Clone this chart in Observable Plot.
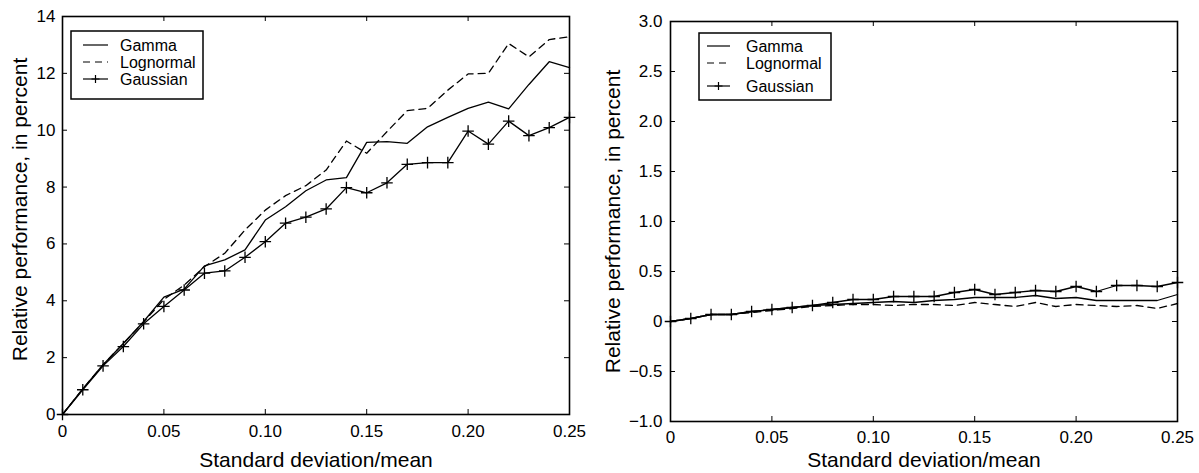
<!DOCTYPE html>
<html><head><meta charset="utf-8">
<script src="https://cdn.jsdelivr.net/npm/d3@7"></script>
<script src="https://cdn.jsdelivr.net/npm/@observablehq/plot@0.6"></script>
<style>
body{margin:0;background:#fff;}
#wrap{position:relative;width:1199px;height:473px;overflow:hidden;background:#fff;font-family:"Liberation Sans",Arial,Helvetica,sans-serif;}
.panel{position:absolute;top:0}
#legend{position:absolute;left:0;top:0;pointer-events:none}
</style></head><body><div id="wrap"></div>
<script>
// ---- data ----
const sdMean = [0,0.01,0.02,0.03,0.04,0.05,0.06,0.07,0.08,0.09,0.10,0.11,0.12,0.13,0.14,0.15,0.16,0.17,0.18,0.19,0.20,0.21,0.22,0.23,0.24,0.25];
const seriesNames = ["Gamma","Lognormal","Gaussian"];

const leftGamma     = [0,0.90,1.75,2.50,3.27,4.13,4.41,5.23,5.44,5.79,6.84,7.31,7.87,8.25,8.33,9.57,9.60,9.54,10.12,10.45,10.77,10.99,10.75,11.61,12.41,12.20];
const leftLognormal = [0,0.90,1.75,2.50,3.25,4.05,4.55,5.20,5.67,6.49,7.19,7.70,8.05,8.60,9.62,9.19,9.95,10.69,10.77,11.41,11.98,12.00,13.05,12.58,13.19,13.29];
const leftGaussian  = [0,0.87,1.71,2.39,3.19,3.80,4.38,4.97,5.05,5.53,6.08,6.73,6.94,7.23,7.98,7.80,8.15,8.80,8.86,8.86,9.97,9.51,10.32,9.81,10.09,10.45];

const rightGamma     = [0,0.03,0.07,0.07,0.10,0.12,0.14,0.16,0.17,0.18,0.19,0.20,0.19,0.21,0.22,0.24,0.24,0.24,0.26,0.23,0.24,0.21,0.21,0.21,0.21,0.27];
const rightLognormal = [0,0.03,0.07,0.07,0.09,0.11,0.13,0.15,0.16,0.17,0.17,0.16,0.17,0.17,0.16,0.19,0.17,0.15,0.19,0.15,0.17,0.16,0.15,0.16,0.13,0.18];
const rightGaussian  = [0,0.03,0.07,0.07,0.10,0.12,0.14,0.16,0.19,0.22,0.22,0.25,0.25,0.25,0.29,0.32,0.27,0.29,0.31,0.30,0.35,0.30,0.36,0.36,0.35,0.39];

const xTicks = [0,0.05,0.10,0.15,0.20,0.25];
const xTickLabels = ["0","0.05","0.10","0.15","0.20","0.25"];
const leftYTicks = [0,2,4,6,8,10,12,14];
const leftYTickLabels = ["0","2","4","6","8","10","12","14"];
const rightYTicks = [-1,-0.5,0,0.5,1,1.5,2,2.5,3];
const rightYTickLabels = ["\u22121.0","\u22120.5","0","0.5","1.0","1.5","2.0","2.5","3.0"];

const xTitle = "Standard deviation/mean";
const yTitle = "Relative performance, in percent";

// ---- drawing ----
const FONT = '"Liberation Sans", Arial, Helvetica, sans-serif';
function rows(vals){ return sdMean.map((x,i)=>({x, y: vals[i]})); }

function panel(cfg){
  const {width,height,ml,mr,mt,mb,yDomain,yTicks,yLabels,gamma,logn,gauss,xPad,yPad,titleDy,yTitleDx,yTitleDy} = cfg;
  const pw = width-ml-mr, ph = height-mt-mb;
  const xMap = new Map(xTicks.map((t,i)=>[t,xTickLabels[i]]));
  const yMap = new Map(yTicks.map((t,i)=>[t,yLabels[i]]));
  return Plot.plot({
    width, height, marginLeft: ml, marginRight: mr, marginTop: mt, marginBottom: mb,
    style: {fontFamily: FONT, background: "white", color: "black", overflow: "visible"},
    x: {domain: [0,0.25]},
    y: {domain: yDomain},
    marks: [
      Plot.ruleX(xTicks, {x: d=>d, insetTop: ph-5, stroke: "black", strokeWidth: 1}),
      Plot.ruleX(xTicks, {x: d=>d, insetBottom: ph-5, stroke: "black", strokeWidth: 1}),
      Plot.ruleY(yTicks, {y: d=>d, insetRight: pw-5, stroke: "black", strokeWidth: 1}),
      Plot.ruleY(yTicks, {y: d=>d, insetLeft: pw-5, stroke: "black", strokeWidth: 1}),
      Plot.lineY(rows(logn), {x:"x", y:"y", stroke:"black", strokeWidth:1.3, strokeDasharray:"7,5"}),
      Plot.lineY(rows(gamma), {x:"x", y:"y", stroke:"black", strokeWidth:1.3}),
      Plot.lineY(rows(gauss), {x:"x", y:"y", stroke:"black", strokeWidth:1.3}),
      Plot.dot(rows(gauss), {x:"x", y:"y", symbol:"plus", r:3.8, stroke:"black", strokeWidth:1.3}),
      Plot.frame({stroke:"black", strokeWidth:1.6}),
      Plot.axisX(xTicks, {tickSize:0, tickPadding:xPad, fontSize:17, tickFormat: d=>xMap.get(d), label:null}),
      Plot.axisY(yTicks, {tickSize:0, tickPadding:yPad, fontSize:17, tickFormat: d=>yMap.get(d), label:null}),
      Plot.text([xTitle], {text: d=>d, frameAnchor:"bottom", textAnchor:"middle", dy: titleDy, fontSize:21}),
      Plot.text([yTitle], {text: d=>d, frameAnchor:"left", textAnchor:"middle", rotate:-90, dx: yTitleDx, dy: yTitleDy, fontSize:21})
    ]
  });
}

const wrap = document.getElementById("wrap");
const left = panel({width:600,height:473,ml:62,mr:31,mt:16,mb:59,yDomain:[0,14],yTicks:leftYTicks,yLabels:leftYTickLabels,
  gamma:leftGamma,logn:leftLognormal,gauss:leftGaussian,xPad:10,yPad:7,titleDy:52,yTitleDx:-42,yTitleDy:-6});
left.classList.add("panel"); left.style.left="0px";
wrap.appendChild(left);
const right = panel({width:599,height:473,ml:70,mr:22,mt:21,mb:52,yDomain:[-1,3],yTicks:rightYTicks,yLabels:rightYTickLabels,
  gamma:rightGamma,logn:rightLognormal,gauss:rightGaussian,xPad:9,yPad:8,titleDy:45,yTitleDx:-57,yTitleDy:0});
right.classList.add("panel"); right.style.left="600px";
wrap.appendChild(right);

// ---- legends ----
const NS = "http://www.w3.org/2000/svg";
const leg = document.createElementNS(NS,"svg");
leg.setAttribute("id","legend"); leg.setAttribute("width",1199); leg.setAttribute("height",473);
wrap.appendChild(leg);
function el(tag, attrs, parent){ const e=document.createElementNS(NS,tag); for(const k in attrs) e.setAttribute(k,attrs[k]); parent.appendChild(e); return e; }
function legend(box){
  const g = el("g",{},leg);
  el("rect",{x:box.x,y:box.y,width:box.w,height:box.h,fill:"white",stroke:"black","stroke-width":1.5},g);
  seriesNames.forEach((name,i)=>{
    const cy = box.rows[i];
    const ln = el("line",{x1:box.l1,x2:box.l2,y1:cy,y2:cy,stroke:"black","stroke-width":1.2},g);
    if(name==="Lognormal") ln.setAttribute("stroke-dasharray","7,5");
    if(name==="Gaussian"){ const mx=(box.l1+box.l2)/2; el("path",{d:`M${mx-4},${cy}H${mx+4}M${mx},${cy-4}V${cy+4}`,stroke:"black","stroke-width":1.2,fill:"none"},g); }
    const t = el("text",{x:box.tx,y:cy,"dominant-baseline":"central","font-size":16,"font-family":FONT,fill:"black"},g);
    t.textContent = name;
  });
}
legend({x:71,y:31,w:132,h:68,rows:[45,62,79],l1:83,l2:108,tx:120});
legend({x:699,y:33,w:132,h:67,rows:[46,63,86],l1:707,l2:730,tx:746});
</script>
</body></html>
